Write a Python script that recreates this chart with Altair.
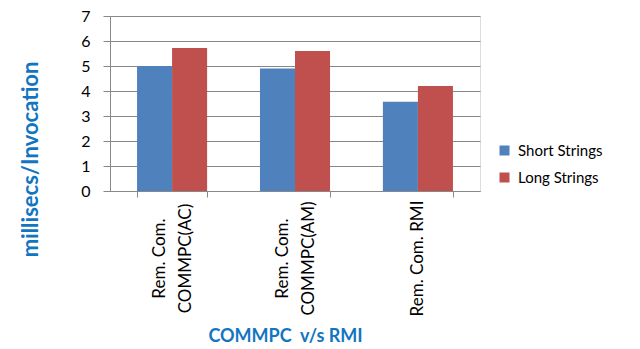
import altair as alt
import pandas as pd

categories = ["Rem. Com.|COMMPC(AC)", "Rem. Com.|COMMPC(AM)", "Rem. Com. RMI"]
series = ["Short Strings", "Long Strings"]
short_vals = [5.0, 4.9, 3.57]
long_vals = [5.72, 5.6, 4.2]

rows = []
for c, s, l in zip(categories, short_vals, long_vals):
    rows.append({"cat": c, "series": "Short Strings", "value": s})
    rows.append({"cat": c, "series": "Long Strings", "value": l})
df = pd.DataFrame(rows)

FONT = "Lato"
BLUE_T = "#1275C2"

chart = alt.Chart(df).mark_bar().encode(
    x=alt.X("cat:N", sort=categories,
            scale=alt.Scale(paddingInner=0.43, paddingOuter=0.22),
            axis=alt.Axis(title="COMMPC\u00a0\u00a0v/s RMI", labelAngle=-90,
                          labelExpr="split(datum.label, '|')",
                          labelFont=FONT, labelFontSize=17, labelColor="#000",
                          labelLineHeight=26, labelPadding=61,
                          labelAlign="center",
                          labelOffset={"condition": {"test": "indexof(datum.label, '|') >= 0", "value": -13}, "value": 0},
                          tickBand="extent", tickColor="#888", tickSize=6,
                          domainColor="#888",
                          titleFont=FONT, titleFontSize=18, titleColor=BLUE_T,
                          titleFontWeight="bold", titleX=175, titleY=145,
                          titleAnchor="middle", titleBaseline="middle")),
    xOffset=alt.XOffset("series:N", sort=series, scale=alt.Scale(paddingInner=0, paddingOuter=0)),
    y=alt.Y("value:Q", scale=alt.Scale(domain=[0, 7]),
            axis=alt.Axis(title="millisecs/Invocation", values=list(range(8)),
                          labelFont=FONT, labelFontSize=16, labelColor="#000",
                          labelPadding=13, tickColor="#888", tickSize=7,
                          domainColor="#888", gridColor="#888",
                          titleFont=FONT, titleFontSize=22, titleColor=BLUE_T,
                          titleFontWeight="bold", titleX=-80, titleY=143,
                          titleAlign="center", titleBaseline="middle", titleAngle=-90)),
    color=alt.Color("series:N", sort=series,
                    scale=alt.Scale(domain=series, range=["#4F81BD", "#C0504D"]),
                    legend=alt.Legend(title=None, orient="none", legendX=387, legendY=127,
                                      symbolType="square", symbolSize=100,
                                      symbolStrokeWidth=0, labelFont=FONT,
                                      labelFontSize=15, labelColor="#000",
                                      rowPadding=11, labelOffset=6)),
).properties(
    width=370, height=175,
    autosize=alt.AutoSizeParams(type="none"),
    padding={"left": 110, "top": 16, "right": 160, "bottom": 158},
).configure_view(stroke=None).configure(background="white")

chart.save("out.html", embed_options={"renderer": "svg", "actions": False})
